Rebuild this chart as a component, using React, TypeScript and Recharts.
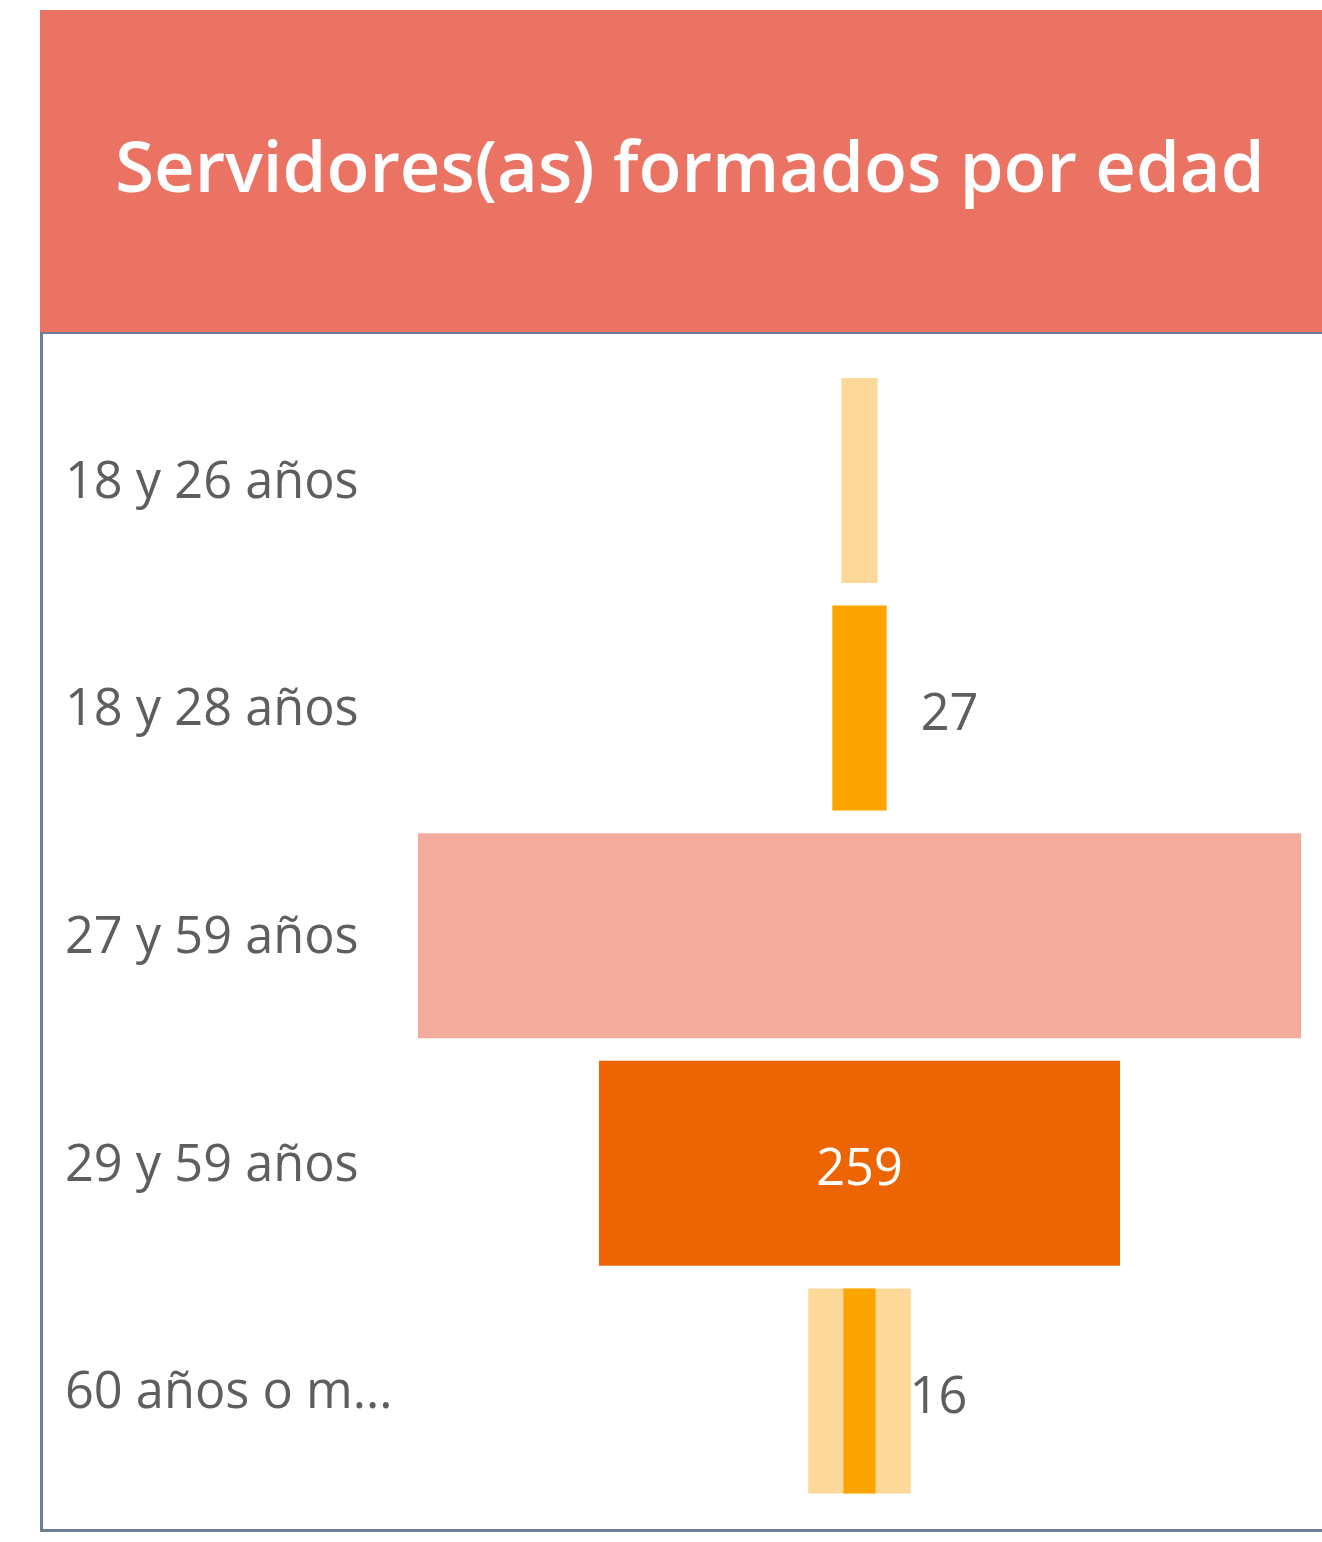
import React from 'react';
import { BarChart, Bar, XAxis, YAxis, Cell, LabelList } from 'recharts';

const categories = ['18 y 26 años', '18 y 28 años', '27 y 59 años', '29 y 59 años', '60 años o más'];
const lightValues = [18, null, 439, null, 51];
const darkValues = [null, 27, null, 259, 16];

const lightColors = ['#FDD999', '#FDD999', '#F3AC9B', '#F3AC9B', '#FDD999'];
const darkColors = ['#FCA500', '#FCA500', '#ED6502', '#ED6502', '#FCA500'];

const data = categories.map((name, i) => ({
  name,
  light: lightValues[i],
  dark: darkValues[i],
}));

// bars are centred on 0, so each one runs from -v/2 to +v/2
const centered = (key: 'light' | 'dark') => (d: any) =>
  d[key] == null ? null : [-d[key] / 2, d[key] / 2];

const FONT = '"Open Sans", "Noto Sans", sans-serif';
const TEXT = '#605E5C';

const CategoryTick = (props: any) => {
  const { y, payload } = props;
  let label = String(payload.value);
  if (label.length > 12) label = label.slice(0, 11) + '...';
  return (
    <text x={65} y={y} dy={17} fontSize={50.5} fontFamily={FONT} fill={TEXT} textAnchor="start">
      {label}
    </text>
  );
};

const DarkLabel = (props: any) => {
  const { x, y, width, height, value } = props;
  if (value == null) return null;
  const inside = width > 150;
  return (
    <text
      x={inside ? x + width / 2 : x + width + 34}
      y={y + height / 2}
      dy={22}
      fontSize={50.5}
      fontFamily={FONT}
      fill={inside ? '#FFFFFF' : TEXT}
      textAnchor={inside ? 'middle' : 'start'}
    >
      {value}
    </text>
  );
};

const App = () => {
  return (
    <div style={{ position: 'absolute', left: 0, top: 0, width: 1322, height: 1542, background: '#fff' }}>
      <div
        style={{
          position: 'absolute',
          left: 40,
          top: 10,
          width: 1282,
          height: 322,
          background: '#EB7363',
          color: '#fff',
          fontFamily: FONT,
          fontWeight: 600,
          fontSize: 70.5,
          lineHeight: '310px',
          textAlign: 'center',
          paddingLeft: 18,
          boxSizing: 'border-box',
          whiteSpace: 'nowrap',
        }}
      >
        Servidores(as) formados por edad
      </div>
      <div
        style={{
          position: 'absolute',
          left: 40,
          top: 332,
          width: 1282,
          height: 1200,
          borderLeft: '3px solid #6E7E98',
          borderTop: '2px solid #6E7E98',
          borderBottom: '3px solid #6E7E98',
          boxSizing: 'border-box',
        }}
      />
      <div style={{ position: 'absolute', left: 0, top: 335 }}>
        <BarChart
          width={1322}
          height={1195}
          data={data}
          layout="vertical"
          barSize={205}
          barGap={-205}
          margin={{ top: 32, right: 3, bottom: 25, left: 0 }}
        >
          <XAxis type="number" domain={[-228.4, 228.4]} hide allowDataOverflow />
          <YAxis
            type="category"
            dataKey="name"
            width={400}
            axisLine={false}
            tickLine={false}
            tick={<CategoryTick />}
          />
          <Bar dataKey={centered('light')} isAnimationActive={false}>
            {data.map((_, i) => (
              <Cell key={i} fill={lightColors[i]} />
            ))}
          </Bar>
          <Bar dataKey={centered('dark')} isAnimationActive={false}>
            {data.map((_, i) => (
              <Cell key={i} fill={darkColors[i]} />
            ))}
            <LabelList dataKey="dark" content={<DarkLabel />} />
          </Bar>
        </BarChart>
      </div>
    </div>
  );
};

export default App;
